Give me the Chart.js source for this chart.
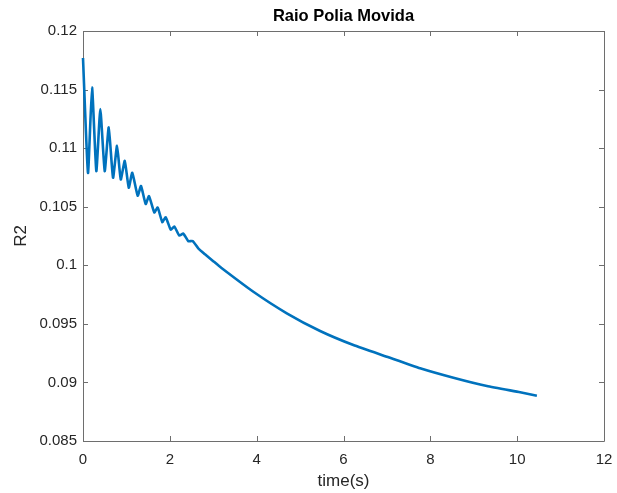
<!DOCTYPE html>
<html>
<head>
<meta charset="utf-8">
<title>Raio Polia Movida</title>
<script src="https://cdn.jsdelivr.net/npm/chart.js@4/dist/chart.umd.min.js"></script>
<style>
  html, body { margin: 0; padding: 0; background: #ffffff; }
  #wrap { width: 617px; height: 493px; }
</style>
</head>
<body>
<div id="wrap"><canvas id="chart" width="617" height="493"></canvas></div>
<script>
// Pulley radius R2 over time: damped oscillation settling into a slow decay
const timeS = [
  0.000, 0.115, 0.208, 0.307, 0.399, 0.500, 0.593, 0.692, 0.784, 0.870,
  0.962, 1.054, 1.135, 1.260, 1.336, 1.444, 1.520, 1.642, 1.720, 1.826,
  1.905, 2.020, 2.103, 2.218, 2.310, 2.425, 2.526, 2.655, 2.810, 3.000,
  3.190, 3.924, 4.694, 5.461, 6.228, 6.998, 7.765, 8.532, 9.302, 10.069,
  10.454
];
const r2Values = [
  0.11770, 0.10788, 0.11518, 0.10804, 0.11333, 0.10804, 0.11177, 0.10747, 0.11020, 0.10733,
  0.10892, 0.10662, 0.10790, 0.10594, 0.10677, 0.10523, 0.10591, 0.10451, 0.10493, 0.10369,
  0.10410, 0.10305, 0.10331, 0.10254, 0.10271, 0.10206, 0.10207, 0.10145, 0.10094, 0.10035,
  0.09977, 0.09774, 0.09590, 0.09439, 0.09319, 0.09220, 0.09121, 0.09040, 0.08969, 0.08916,
  0.08887
];
const xTicks = [0, 2, 4, 6, 8, 10, 12];
const yTicks = [0.085, 0.09, 0.095, 0.1, 0.105, 0.11, 0.115, 0.12];
const chartTitle = 'Raio Polia Movida';

const axisColor = '#6e6e6e';
const textColor = '#262626';
const lineColor = '#0072BD';
const fontFamily = '"Liberation Sans", Arial, Helvetica, sans-serif';

// Full axes box with inward tick marks on all four sides, title centred over the axes
const axesBox = {
  id: 'axesBox',
  beforeDatasetsDraw(chart) {
    const { ctx, chartArea: a, scales: { x, y } } = chart;
    const len = 5;
    ctx.save();
    ctx.strokeStyle = axisColor;
    ctx.lineWidth = 1;
    ctx.beginPath();
    ctx.rect(Math.round(a.left) + 0.5, Math.round(a.top) + 0.5,
             Math.round(a.right - a.left), Math.round(a.bottom - a.top));
    xTicks.forEach(v => {
      const px = Math.round(x.getPixelForValue(v)) + 0.5;
      ctx.moveTo(px, a.bottom); ctx.lineTo(px, a.bottom - len);
      ctx.moveTo(px, a.top); ctx.lineTo(px, a.top + len);
    });
    yTicks.forEach(v => {
      const py = Math.round(y.getPixelForValue(v)) + 0.5;
      ctx.moveTo(a.left, py); ctx.lineTo(a.left + len, py);
      ctx.moveTo(a.right, py); ctx.lineTo(a.right - len, py);
    });
    ctx.stroke();

    ctx.fillStyle = '#000000';
    ctx.font = 'bold 16.5px ' + fontFamily;
    ctx.textAlign = 'center';
    ctx.textBaseline = 'middle';
    ctx.fillText(chartTitle, (a.left + a.right) / 2, 16);
    ctx.restore();
  }
};

const fmt = v => String(parseFloat(Number(v).toFixed(4)));

new Chart(document.getElementById('chart'), {
  type: 'line',
  data: {
    datasets: [{
      data: timeS.map((t, i) => ({ x: t, y: r2Values[i] })),
      borderColor: lineColor,
      borderWidth: 2.6,
      pointRadius: 0,
      fill: false,
      tension: 0.15,
      clip: false
    }]
  },
  options: {
    responsive: false,
    animation: false,
    events: [],
    layout: { padding: { left: 7, right: 13, top: 31, bottom: 1 } },
    plugins: {
      legend: { display: false },
      tooltip: { enabled: false },
      title: { display: false }
    },
    scales: {
      x: {
        type: 'linear',
        min: 0, max: 12,
        afterBuildTicks: s => { s.ticks = xTicks.map(v => ({ value: v })); },
        afterFit: s => { s.height = 51; s.paddingLeft = 0; s.paddingRight = 0; },
        grid: { display: false, drawTicks: false },
        border: { display: false },
        ticks: {
          color: textColor, padding: 10, maxRotation: 0,
          font: { family: fontFamily, size: 15 },
          callback: v => fmt(v)
        },
        title: {
          display: true, text: 'time(s)', color: textColor,
          font: { family: fontFamily, size: 17 },
          padding: { top: 0, bottom: 0 }
        }
      },
      y: {
        type: 'linear',
        min: 0.085, max: 0.12,
        afterBuildTicks: s => { s.ticks = yTicks.map(v => ({ value: v })); },
        afterFit: s => { s.width = 76; },
        grid: { display: false, drawTicks: false },
        border: { display: false },
        ticks: {
          color: textColor, padding: 6,
          font: { family: fontFamily, size: 15 },
          callback: v => fmt(v)
        },
        title: {
          display: true, text: 'R2', color: textColor,
          font: { family: fontFamily, size: 17 },
          padding: { top: 4, bottom: 0 }
        }
      }
    }
  },
  plugins: [axesBox]
});
</script>
</body>
</html>
